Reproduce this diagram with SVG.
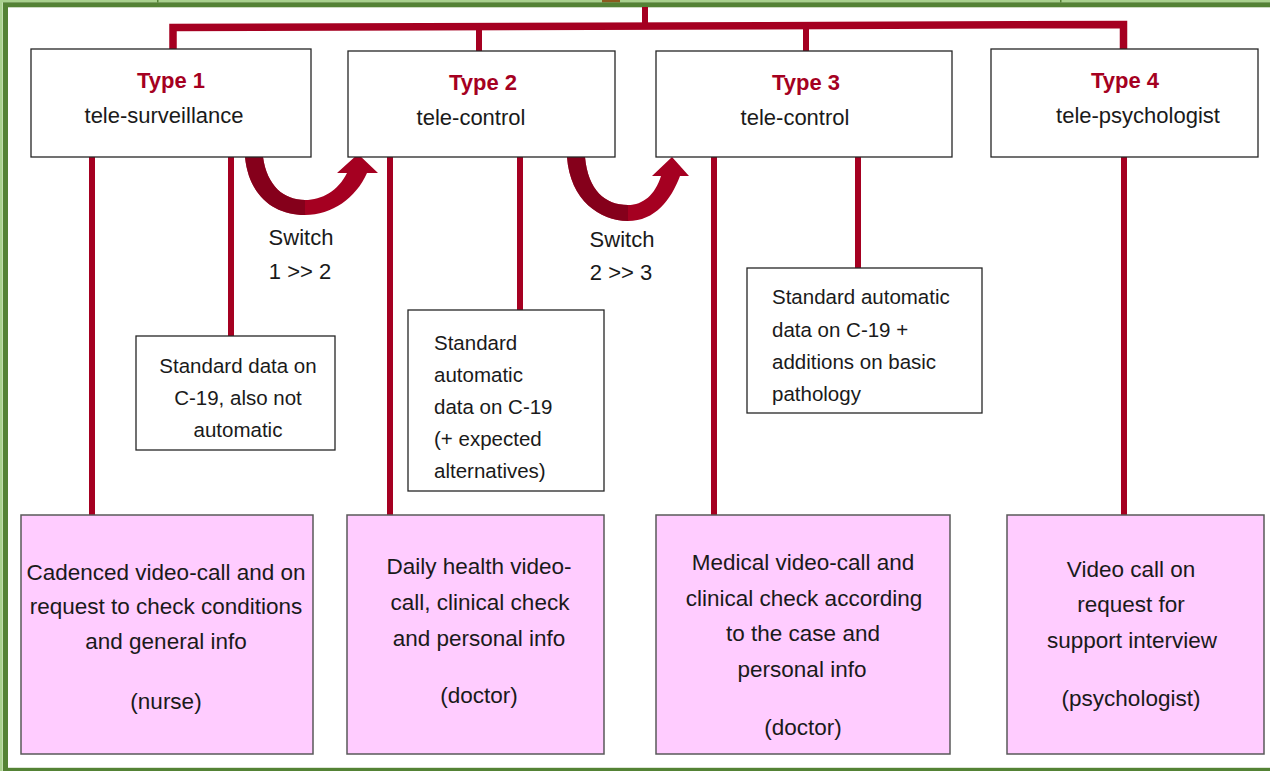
<svg xmlns="http://www.w3.org/2000/svg" width="1270" height="771" viewBox="0 0 1270 771">
  <style>
    .head { fill: #ffffff; stroke: #262626; stroke-width: 1.3; }
    .info { fill: #ffffff; stroke: #262626; stroke-width: 1.3; }
    .task { fill: #ffccff; stroke: #595959; stroke-width: 1.5; }
    .link { fill: none; stroke: #a50021; stroke-width: 6; }
    .bus { fill: none; stroke: #a50021; stroke-width: 7.5; }
    .t { font-family: "Liberation Sans", Arial, sans-serif; fill: #1a1a1a; }
    .type { font-size: 22px; font-weight: bold; fill: #a50021; text-anchor: middle; }
    .sub { font-size: 22px; text-anchor: middle; }
    .small { font-size: 20.5px; }
    .big { font-size: 22.5px; text-anchor: middle; }
    .sw { font-size: 22px; text-anchor: middle; }
    .turn { fill: #a50021; }
    .turn-shade { fill: #7b0019; }
  </style>

  <!-- frame -->
  <rect x="0" y="0" width="1270" height="771" fill="#ffffff"/>
  <rect x="0" y="0" width="1270" height="2.5" fill="#a9d18e"/>
  <rect x="0" y="0" width="2.7" height="771" fill="#a9d18e"/>
  <rect x="157" y="0" width="1.5" height="2.5" fill="#548235"/>
  <rect x="1060" y="0" width="1.5" height="2.5" fill="#548235"/>
  <rect x="602" y="0" width="18" height="2.5" fill="#8b5a1e"/>
  <rect x="5.5" y="4.8" width="1300" height="765.5" fill="none" stroke="#548235" stroke-width="5"/>

  <!-- connectors -->
  <g id="connectors">
    <line class="link" x1="645" y1="7" x2="645" y2="27"/>
    <polyline class="bus" points="173,49 173,27.5 1123.5,24.5 1123.5,49" stroke-linejoin="miter"/>
    <line class="link" x1="479" y1="26" x2="479" y2="51"/>
    <line class="link" x1="806" y1="25" x2="806" y2="51"/>

    <line class="link" x1="92" y1="157" x2="92" y2="515"/>
    <line class="link" x1="231" y1="157" x2="231" y2="336"/>
    <line class="link" x1="390" y1="157" x2="390" y2="515"/>
    <line class="link" x1="520" y1="157" x2="520" y2="310"/>
    <line class="link" x1="714" y1="157" x2="714" y2="515"/>
    <line class="link" x1="858" y1="157" x2="858" y2="268"/>
    <line class="link" x1="1124" y1="157" x2="1124" y2="515"/>

    <!-- switch arrows -->
    <g id="switch-1-2">
      <path class="turn" d="M245 157 C249 196 274 215 305 215 C332 215 356 198 367 173 L378 173 L358 154 L337 173 L347 173 C338 191 322 200 305 200 C284 200 267 186 263 157 Z"/>
      <path class="turn-shade" d="M245 157 C249 196 274 215 305 215 L305 200 C284 200 267 186 263 157 Z" opacity="0.75"/>
    </g>
    <g id="switch-2-3">
      <path class="turn" d="M567 157 C570 200 600 221 628 221 C655 221 671 200 680 176 L689 176 L672 157 L652 176 L661 176 C655 195 643 205 628 205 C605 205 588 190 585 157 Z"/>
      <path class="turn-shade" d="M567 157 C570 200 600 221 628 221 L628 205 C605 205 588 190 585 157 Z" opacity="0.75"/>
    </g>
  </g>

  <!-- header nodes -->
  <g id="type1">
    <rect class="head" x="31" y="49" width="280" height="108"/>
    <text class="t type" x="171" y="88">Type 1</text>
    <text class="t sub" x="164" y="123">tele-surveillance</text>
  </g>
  <g id="type2">
    <rect class="head" x="348" y="51" width="267" height="106"/>
    <text class="t type" x="483" y="90">Type 2</text>
    <text class="t sub" x="471" y="125">tele-control</text>
  </g>
  <g id="type3">
    <rect class="head" x="656" y="51" width="296" height="106"/>
    <text class="t type" x="806" y="90">Type 3</text>
    <text class="t sub" x="795" y="125">tele-control</text>
  </g>
  <g id="type4">
    <rect class="head" x="991" y="49" width="267" height="108"/>
    <text class="t type" x="1125" y="88">Type 4</text>
    <text class="t sub" x="1138" y="123">tele-psychologist</text>
  </g>

  <!-- switch labels -->
  <g id="label-switch-1">
    <text class="t sw" x="301" y="245">Switch</text>
    <text class="t sw" x="300" y="279">1 &gt;&gt; 2</text>
  </g>
  <g id="label-switch-2">
    <text class="t sw" x="622" y="247">Switch</text>
    <text class="t sw" x="621" y="280">2 &gt;&gt; 3</text>
  </g>

  <!-- data nodes -->
  <g id="data1">
    <rect class="info" x="136" y="336" width="199" height="114"/>
    <text class="t small" text-anchor="middle" x="238" y="373">Standard data on</text>
    <text class="t small" text-anchor="middle" x="238" y="405">C-19, also not</text>
    <text class="t small" text-anchor="middle" x="238" y="437">automatic</text>
  </g>
  <g id="data2">
    <rect class="info" x="408" y="310" width="196" height="181"/>
    <text class="t small" x="434" y="350">Standard</text>
    <text class="t small" x="434" y="382">automatic</text>
    <text class="t small" x="434" y="414">data on C-19</text>
    <text class="t small" x="434" y="446">(+ expected</text>
    <text class="t small" x="434" y="478">alternatives)</text>
  </g>
  <g id="data3">
    <rect class="info" x="747" y="268" width="235" height="145"/>
    <text class="t small" x="772" y="304">Standard automatic</text>
    <text class="t small" x="772" y="337">data on C-19 +</text>
    <text class="t small" x="772" y="369">additions on basic</text>
    <text class="t small" x="772" y="401">pathology</text>
  </g>

  <!-- service nodes -->
  <g id="service1">
    <rect class="task" x="21" y="515" width="292" height="239"/>
    <text class="t big" x="166" y="580">Cadenced video-call and on</text>
    <text class="t big" x="166" y="614">request to check conditions</text>
    <text class="t big" x="166" y="649">and general info</text>
    <text class="t big" x="166" y="709">(nurse)</text>
  </g>
  <g id="service2">
    <rect class="task" x="347" y="515" width="257" height="239"/>
    <text class="t big" x="479" y="574">Daily health video-</text>
    <text class="t big" x="480" y="610">call, clinical check</text>
    <text class="t big" x="479" y="646">and personal info</text>
    <text class="t big" x="479" y="703">(doctor)</text>
  </g>
  <g id="service3">
    <rect class="task" x="656" y="515" width="294" height="239"/>
    <text class="t big" x="803" y="570">Medical video-call and</text>
    <text class="t big" x="804" y="606">clinical check according</text>
    <text class="t big" x="803" y="641">to the case and</text>
    <text class="t big" x="802" y="677">personal info</text>
    <text class="t big" x="803" y="735">(doctor)</text>
  </g>
  <g id="service4">
    <rect class="task" x="1007" y="515" width="257" height="239"/>
    <text class="t big" x="1131" y="577">Video call on</text>
    <text class="t big" x="1131" y="612">request for</text>
    <text class="t big" x="1132" y="648">support interview</text>
    <text class="t big" x="1131" y="706">(psychologist)</text>
  </g>
</svg>
